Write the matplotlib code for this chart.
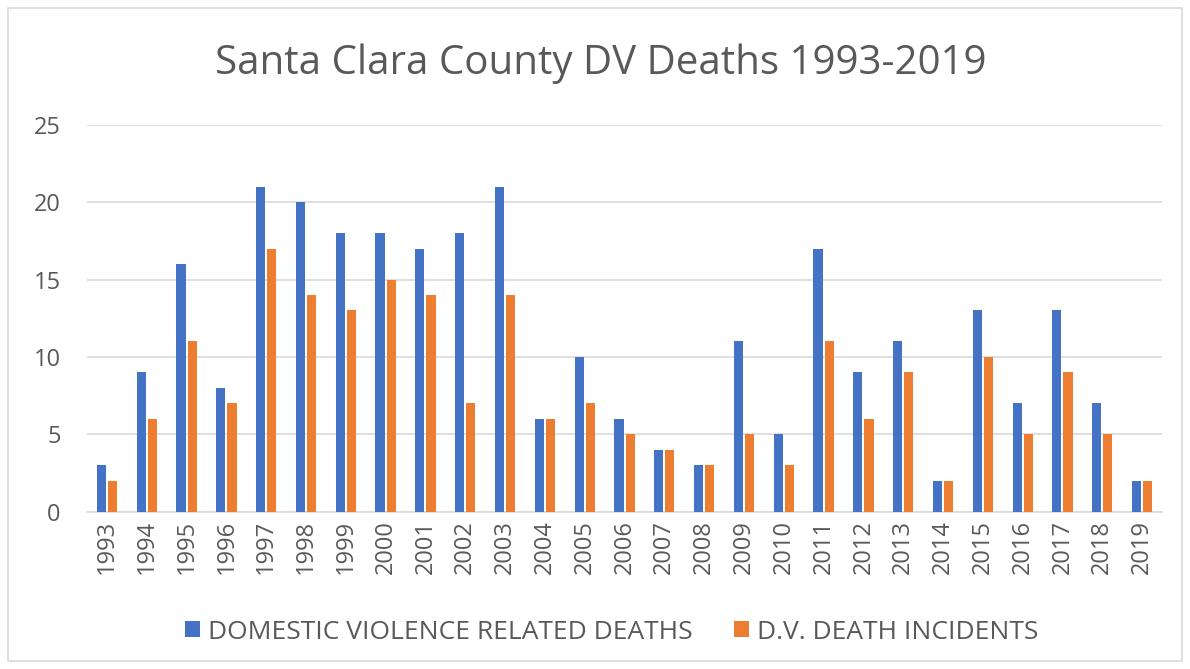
import numpy as np
import matplotlib.pyplot as plt
from matplotlib.patches import Rectangle

plt.rcParams['font.family'] = ['Open Sans', 'DejaVu Sans']

# --- Data
years = [str(y) for y in range(1993, 2020)]
dv_deaths = [3, 9, 16, 8, 21, 20, 18, 18, 17, 18, 21, 6, 10, 6, 4, 3, 11, 5, 17, 9, 11, 2, 13, 7, 13, 7, 2]
dv_incidents = [2, 6, 11, 7, 17, 14, 13, 15, 14, 7, 14, 6, 7, 5, 4, 3, 5, 3, 11, 6, 9, 2, 10, 5, 9, 5, 2]

blue = "#4472C4"
orange = "#ED7D31"
grey = "#595959"

fig = plt.figure(figsize=(11.9, 6.69), dpi=100)
ax = fig.add_axes([0.0731, 0.2351, 0.9034, 0.5785])

x = np.arange(len(years))
w = 0.23
ax.bar(x - 0.14, dv_deaths, width=w, color=blue, label="DOMESTIC VIOLENCE RELATED DEATHS", zorder=3)
ax.bar(x + 0.14, dv_incidents, width=w, color=orange, label="D.V. DEATH INCIDENTS", zorder=3)

ax.set_xlim(-0.5, len(years) - 0.5)
ax.set_ylim(0, 25)
ax.set_yticks(range(0, 26, 5))
ax.set_xticks(x)
ax.set_xticklabels(years, rotation=90)
ax.tick_params(axis='both', length=0, colors=grey)
ax.tick_params(axis='y', pad=19, labelsize=17)
ax.tick_params(axis='x', pad=6, labelsize=17)
ax.grid(axis='y', color="#D9D9D9", linewidth=1.2, zorder=0)
for s in ['top', 'right', 'left']:
    ax.spines[s].set_visible(False)
ax.spines['bottom'].set_color("#D9D9D9")
ax.spines['bottom'].set_linewidth(1.2)

fig.text(0.505, 0.905, "Santa Clara County DV Deaths 1993-2019", ha='center', va='center',
         fontsize=29, color=grey)

fig.legend(loc='center', bbox_to_anchor=(0.514, 0.055), ncol=2, frameon=False,
           fontsize=19, handlelength=0.55, handleheight=0.55, columnspacing=1.6,
           handletextpad=0.3, labelcolor=grey)

# chart frame
fig.patches.append(Rectangle((0.007, 0.012), 0.986, 0.976, transform=fig.transFigure,
                             fill=False, edgecolor="#D9D9D9", linewidth=1.2))

fig.savefig("out.png", dpi=100)
